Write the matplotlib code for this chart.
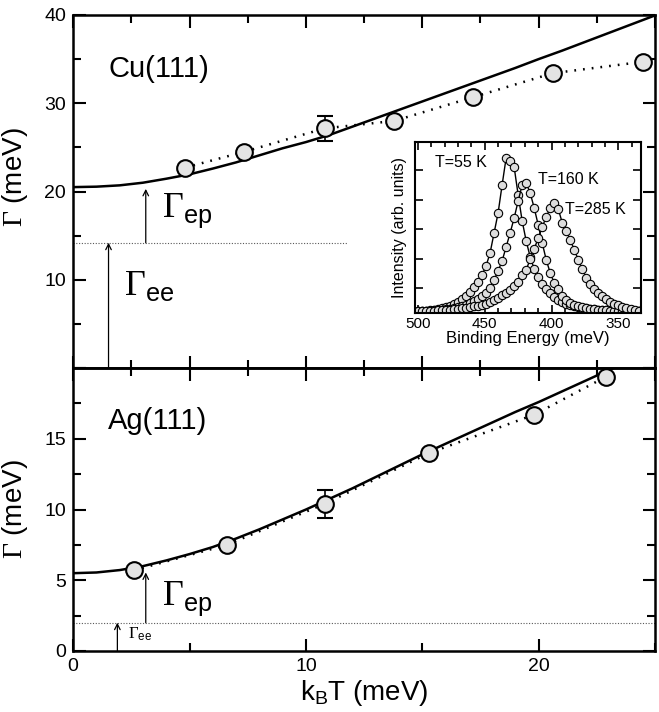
import matplotlib
matplotlib.use("Agg")
import matplotlib.pyplot as plt
from matplotlib.ticker import MultipleLocator

plt.rcParams['font.family'] = ['Liberation Sans', 'DejaVu Sans']
plt.rcParams['mathtext.fontset'] = 'custom'
plt.rcParams['mathtext.rm'] = 'Liberation Serif'
plt.rcParams['mathtext.sf'] = 'Liberation Sans'
plt.rcParams['mathtext.it'] = 'Liberation Sans:italic'

# ---- data ----
# Cu(111) linewidth vs k_B T
cu_T = [4.8, 7.35, 10.8, 13.8, 17.2, 20.6, 24.5]
cu_G = [22.7, 24.5, 27.15, 28.0, 30.7, 33.4, 34.7]
cu_err = [0, 0, 1.45, 0, 0, 0, 0]
cu_fit_T = [0, 1, 2, 3, 4, 5, 6, 7, 8, 9, 10, 11, 12, 13, 14, 15, 16, 17,
            18, 19, 20, 21, 22, 23, 24, 25]
cu_fit_G = [20.5, 20.55, 20.7, 21.0, 21.45, 21.95, 22.6, 23.3, 24.1, 24.9,
            25.6, 26.4, 27.35, 28.3, 29.25, 30.2, 31.15, 32.1, 33.05, 34.0,
            35.0, 35.95, 36.95, 37.95, 38.95, 39.95]
cu_gee = 14.2

# Ag(111)
ag_T = [2.6, 6.6, 10.8, 15.3, 19.8, 22.9]
ag_G = [5.7, 7.5, 10.4, 14.0, 16.7, 19.4]
ag_err = [0, 0, 1.0, 0, 0, 0]
ag_fit_T = cu_fit_T
ag_fit_G = [5.5, 5.55, 5.72, 6.0, 6.4, 6.85, 7.35, 7.95, 8.6, 9.3, 10.0,
            10.75, 11.5, 12.3, 13.1, 13.9, 14.65, 15.4, 16.15, 16.9,
            17.6, 18.35, 19.1, 19.85, 20.6, 21.3]
ag_gee = 2.0

# inset spectra: binding energy (meV) and intensity (arb. units)
be = [500, 497, 494, 491, 488, 485, 482, 479, 476, 473, 470, 467, 464, 461,
      458, 455, 452, 449, 446, 443, 440, 437, 434, 431, 428, 425, 422, 419,
      416, 413, 410, 407, 404, 401, 398, 395, 392, 389, 386, 383, 380, 377,
      374, 371, 368, 365, 362, 359, 356, 353, 350, 347, 344, 341, 338, 335]
i_55 = [1, 2, 2, 3, 3, 4, 5, 6, 7, 9, 11, 14, 17, 21, 26, 31, 38, 47, 60, 80,
        100, 128, 155, 152, 146, 118, 92, 72, 56, 44, 36, 29, 24, 20, 16, 13,
        11, 9, 8, 7, 6, 5, 5, 4, 4, 3, 3, 3, 2, 2, 2, 2, 2, 2, 2, 2]
i_160 = [2, 2, 2, 2, 3, 3, 3, 4, 4, 5, 6, 7, 8, 10, 12, 14, 17, 20, 25, 33,
         42, 52, 66, 80, 95, 112, 128, 130, 120, 105, 88, 70, 53, 40, 30, 24,
         17, 13, 10, 8, 7, 6, 5, 4, 4, 3, 3, 3, 2, 2, 2, 2, 2, 2, 2, 2]
i_285 = [2, 2, 2, 2, 2, 3, 3, 3, 3, 4, 4, 5, 5, 6, 7, 7, 8, 9, 11, 13, 15, 18,
         20, 23, 27, 31, 38, 43, 54, 64, 75, 86, 96, 105, 110, 104, 90, 82, 73,
         63, 53, 44, 35, 29, 24, 20, 17, 14, 11, 9, 8, 6, 5, 4, 3, 2]
spec_labels = ['T=55 K', 'T=160 K', 'T=285 K']
spec_label_pos = [(487, 150), (410, 133), (390, 103)]

fig = plt.figure(figsize=(6.59, 7.12), dpi=100)
ax1 = fig.add_axes([0.111, 0.483, 0.883, 0.496])
ax2 = fig.add_axes([0.111, 0.0857, 0.883, 0.3973])

tick_kw = dict(direction='in', top=True, right=True, width=1.5)
mark_kw = dict(marker='o', ms=12, mfc='#e4e4e4', mec='k', mew=1.5,
               ls='none', zorder=5, ecolor='k', elinewidth=1.2, capsize=6,
               capthick=1.2)
dot = (0, (0.7, 2.8))

for ax in (ax1, ax2):
    for s in ax.spines.values():
        s.set_linewidth(1.8)
    ax.tick_params(which='major', length=9, labelsize=14, pad=5, **tick_kw)
    ax.tick_params(which='minor', length=5.5, **tick_kw)
    ax.set_xlim(0, 25)

# ---- Cu(111) ----
ax1.plot(cu_fit_T, cu_fit_G, color='k', lw=1.8, zorder=3)
ax1.plot(cu_T, cu_G, color='k', lw=1.8, ls=dot, zorder=2)
ax1.errorbar(cu_T, cu_G, yerr=cu_err, **mark_kw)
ax1.plot([0, 11.8], [cu_gee, cu_gee], color='0.35', lw=0.8, ls=(0, (1, 1.5)))
ax1.annotate('', xy=(1.52, cu_gee), xytext=(1.52, 0),
             arrowprops=dict(arrowstyle='->', lw=0.9, color='k',
                             shrinkA=0, shrinkB=0, mutation_scale=10))
ax1.annotate('', xy=(3.12, 20.3), xytext=(3.12, cu_gee),
             arrowprops=dict(arrowstyle='->', lw=0.9, color='k',
                             shrinkA=0, shrinkB=0, mutation_scale=10))
ax1.text(2.2, 8.3, r'$\Gamma_{\mathsf{ee}}$', fontsize=26, va='baseline')
ax1.text(3.8, 17.1, r'$\Gamma_{\mathsf{ep}}$', fontsize=26, va='baseline')
ax1.text(1.5, 33.0, 'Cu(111)', fontsize=21, va='baseline')
ax1.set_ylim(0, 40)
ax1.set_yticks([0, 10, 20, 30, 40])
ax1.set_yticklabels(['', '10', '20', '30', '40'])
ax1.yaxis.set_minor_locator(MultipleLocator(5))
ax1.xaxis.set_major_locator(MultipleLocator(5))
ax1.xaxis.set_minor_locator(MultipleLocator(2.5))
ax1.tick_params(labelbottom=False)
ax1.set_ylabel(r'$\Gamma$ (meV)', fontsize=20)
ax1.yaxis.set_label_coords(-0.074, 0.54)

# ---- Ag(111) ----
ax2.plot(ag_fit_T, ag_fit_G, color='k', lw=1.8, zorder=3)
ax2.plot(ag_T, ag_G, color='k', lw=1.8, ls=dot, zorder=2)
ax2.errorbar(ag_T, ag_G, yerr=ag_err, **mark_kw)
ax2.plot([0, 25], [ag_gee, ag_gee], color='0.35', lw=0.8, ls=(0, (1, 1.5)))
ax2.annotate('', xy=(1.9, ag_gee), xytext=(1.9, 0),
             arrowprops=dict(arrowstyle='->', lw=0.9, color='k',
                             shrinkA=0, shrinkB=0, mutation_scale=10))
ax2.annotate('', xy=(3.12, 5.55), xytext=(3.12, ag_gee),
             arrowprops=dict(arrowstyle='->', lw=0.9, color='k',
                             shrinkA=0, shrinkB=0, mutation_scale=10))
ax2.text(2.36, 0.92, r'$\Gamma_{\mathsf{ee}}$', fontsize=12, va='baseline')
ax2.text(3.8, 3.26, r'$\Gamma_{\mathsf{ep}}$', fontsize=26, va='baseline')
ax2.text(1.5, 15.7, 'Ag(111)', fontsize=21, va='baseline')
ax2.set_ylim(0, 20)
ax2.set_yticks([0, 5, 10, 15, 20])
ax2.set_yticklabels(['0', '5', '10', '15', ''])
ax2.yaxis.set_minor_locator(MultipleLocator(2.5))
ax2.xaxis.set_major_locator(MultipleLocator(10))
ax2.xaxis.set_minor_locator(MultipleLocator(5))
ax2.tick_params(top=False, which='both')
top = ax2.secondary_xaxis('top')
top.xaxis.set_major_locator(MultipleLocator(5))
top.xaxis.set_minor_locator(MultipleLocator(2.5))
top.tick_params(which='major', direction='in', length=9, width=1.5,
                labeltop=False)
top.tick_params(which='minor', direction='in', length=5.5, width=1.5)
top.spines['top'].set_linewidth(1.8)
ax2.set_ylabel(r'$\Gamma$ (meV)', fontsize=20)
ax2.yaxis.set_label_coords(-0.074, 0.5)
ax2.set_xlabel(r'k$_{\mathsf{B}}$T (meV)', fontsize=20, labelpad=2)

# ---- inset ----
axi = fig.add_axes([0.630, 0.5604, 0.343, 0.2402])
for s in axi.spines.values():
    s.set_linewidth(1.5)
for spec in (i_55, i_160, i_285):
    axi.plot(be, spec, color='k', lw=1.0, marker='o', ms=6,
             mfc='#dddddd', mec='k', mew=0.8)
for lab, (x, y) in zip(spec_labels, spec_label_pos):
    axi.text(x, y, lab, fontsize=11.5, va='center', ha='left')
axi.set_xlim(502, 333)
axi.set_ylim(0, 171)
axi.set_yticks([25, 54.4, 83.8, 113.2, 142.6])
axi.set_yticklabels([])
axi.xaxis.set_major_locator(MultipleLocator(50))
axi.xaxis.set_minor_locator(MultipleLocator(10))
axi.tick_params(which='major', direction='in', top=True, right=True,
                length=6, width=1.2, labelsize=11, pad=3)
axi.tick_params(which='minor', direction='in', top=True, right=False,
                length=3.5, width=1.2)
axi.set_xlabel('Binding Energy (meV)', fontsize=12, labelpad=0)
axi.set_ylabel('Intensity (arb. units)', fontsize=11.5, labelpad=3)

fig.savefig('out.png', dpi=100)
